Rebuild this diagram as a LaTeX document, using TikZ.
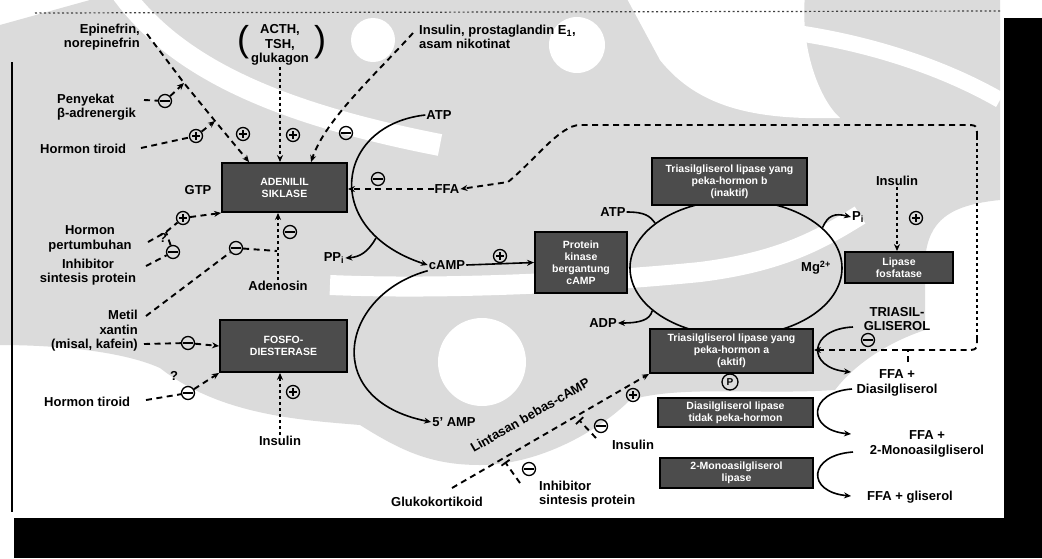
\documentclass[tikz,border=0pt]{standalone}
\usepackage{fontspec}
\setmainfont{Liberation Sans}
\usetikzlibrary{arrows.meta,shapes.geometric,calc}
\newcommand{\lblfont}{\bfseries\fontsize{13}{14.5}\selectfont}
\newcommand{\enzfont}{\bfseries\fontsize{10.5}{12}\selectfont}
\tikzset{
  lbl/.style={font=\lblfont, inner sep=1pt, align=center},
  enz/.style={draw=black, line width=1.9pt, fill=black!70, text=white, font=\enzfont, align=center, inner sep=1pt},
  dsh/.style={line width=1.9pt, dash pattern=on 6pt off 4.5pt},
  dotl/.style={line width=2.4pt, dash pattern=on 3pt off 3pt},
  sol/.style={line width=1.6pt},
  arr/.style={-{Stealth[length=7pt,width=6pt]}},
  tbar/.style={-{Bar[width=10pt,line width=1.8pt]}},
  sgn/.style={circle, draw, line width=1.3pt, minimum size=13pt, inner sep=0pt},
  sgnplus/.style={sgn, path picture={\draw[line width=1.3pt]
      ($(path picture bounding box.center)+(-4,0)$) -- ($(path picture bounding box.center)+(4,0)$)
      ($(path picture bounding box.center)+(0,-4)$) -- ($(path picture bounding box.center)+(0,4)$);}},
  sgnminus/.style={sgn, path picture={\draw[line width=1.3pt]
      ($(path picture bounding box.center)+(-5,0)$) -- ($(path picture bounding box.center)+(5,0)$);}},
  wm/.style={fill=black!14},
}
\begin{document}
\begin{tikzpicture}[x=1pt,y=-1pt]
\useasboundingbox (0,0) rectangle (1042,558);
\fill[white] (0,0) rectangle (1042,558);

% --- light grey watermark behind the scheme
\fill[wm] (0,25) -- (90,0) -- (1000,0) -- (1000,200)
  .. controls (950,205) and (928,220) .. (925,260) -- (925,330)
  .. controls (880,345) and (850,370) .. (835,390)
  .. controls (760,395) and (680,385) .. (630,400)
  .. controls (600,430) and (540,465) .. (480,465)
  .. controls (430,465) and (400,450) .. (360,425)
  .. controls (300,420) and (220,415) .. (160,368)
  .. controls (120,350) and (50,345) .. (0,345) -- cycle;
\fill[white] (373,40) circle[radius=22pt];
\fill[white] (577,45) circle[radius=28pt];
\fill[white] (482,362) circle[radius=44pt];
\draw[white, line width=20pt] (330,285) .. controls (450,290) and (600,282) .. (700,272)
  .. controls (780,262) and (820,240) .. (860,215);
\draw[white, line width=22pt] (120,-10) .. controls (170,60) and (260,110) .. (440,145);
\fill[white] (625,-5) -- (805,-5) .. controls (800,50) and (820,100) .. (840,118)
  .. controls (760,120) and (700,110) .. (660,60) -- cycle;
\draw[white, line width=16pt] (790,32) .. controls (850,40) and (930,60) .. (1000,100);

% --- page edges of the scan
\fill[black] (1004,18) rectangle (1042,558);
\fill[black] (14,518) rectangle (1042,558);
\draw[line width=2.5pt] (12,62) -- (12,512);
\draw[line width=1.2pt, dash pattern=on 2pt off 2.5pt, black!75] (35,13) -- (1000,11);

% --- labels
\node[lbl, anchor=east, align=right] (epi) at (141,37) {Epinefrin,\\norepinefrin};
\node[lbl] (acth) at (280,45) {ACTH,\\TSH,\\glukagon};
\node[font=\fontsize{36}{36}\selectfont, inner sep=0pt] (lpar) at (243,42) {(};
\node[font=\fontsize{36}{36}\selectfont, inner sep=0pt] (rpar) at (320,42) {)};
\node[lbl, anchor=west, align=left] (ins1) at (418,37) {Insulin, prostaglandin E\textsubscript{1},\\asam nikotinat};
\node[lbl, anchor=west, align=left] (peny) at (56,107) {Penyekat\\β-adrenergik};
\node[lbl, anchor=west] (tir1) at (39,149) {Hormon tiroid};
\node[lbl] (gtp) at (198,190) {GTP};
\node[lbl] (hp) at (90,239) {Hormon\\pertumbuhan};
\node[lbl] (isp1) at (88,272) {Inhibitor\\sintesis protein};
\node[lbl] (ppi) at (334,258) {PP\textsubscript{i}};
\node[lbl] (ade) at (278,286) {Adenosin};
\node[lbl, anchor=east, align=right] (mx) at (139,331) {Metil\\xantin\\(misal, kafein)};
\node[lbl, anchor=west] (tir2) at (43,402) {Hormon tiroid};
\node[lbl] (ins2) at (280,441) {Insulin};
\node[lbl] (atp1) at (439,115) {ATP};
\node[lbl] (ffa1) at (447,189) {FFA};
\node[lbl] (camp) at (447,265) {cAMP};
\node[lbl] (amp5) at (454,422) {5' AMP};
\node[lbl] (atp2) at (613,212) {ATP};
\node[lbl] (adp) at (603,323) {ADP};
\node[lbl] (pi) at (858,217) {P\textsubscript{i}};
\node[lbl] (mg) at (816,268) {Mg\textsuperscript{2+}};
\node[lbl] (ins3) at (897,181) {Insulin};
\node[lbl] (tag) at (897,319) {TRIASIL-\\GLISEROL};
\node[lbl] (ffa2) at (897,383) {FFA +\\Diasilgliserol};
\node[lbl] (ffa3) at (927,444) {FFA +\\2-Monoasilgliserol};
\node[lbl] (ffa4) at (910,497) {FFA + gliserol};
\node[lbl] (gk) at (437,502) {Glukokortikoid};
\node[lbl, anchor=west, align=left] (isp2) at (538,494) {Inhibitor\\sintesis protein};
\node[lbl] (ins4) at (633,445) {Insulin};
\node[lbl, rotate=30] (lint) at (530,415) {Lintasan bebas-cAMP};
\node[lbl] (q1) at (163,238) {?};
\node[lbl] (q2) at (174,376) {?};

% --- the phosphorylation cycle of the lipase
\node[ellipse, draw, line width=1.6pt, minimum width=212pt, minimum height=136pt] (cyc) at (736,268) {};

% --- enzymes
\node[enz, minimum width=125pt, minimum height=49pt] (ac) at (284.5,187.5) {ADENILIL\\SIKLASE};
\node[enz, minimum width=127pt, minimum height=52pt] (pde) at (283.5,346) {FOSFO-\\DIESTERASE};
\node[enz, minimum width=92pt, minimum height=61pt] (pk) at (581,262.5) {Protein\\kinase\\bergantung\\cAMP};
\node[enz, minimum width=155pt, minimum height=47pt] (hslb) at (729.5,181.5) {Triasilgliserol lipase yang\\peka-hormon b\\(inaktif)};
\node[enz, minimum width=108pt, minimum height=31pt] (lpf) at (899,267.5) {Lipase\\fosfatase};
\node[enz, minimum width=163pt, minimum height=44pt] (hsla) at (731.5,351) {Triasilgliserol lipase yang\\peka-hormon a\\(aktif)};
\node[enz, minimum width=155pt, minimum height=29pt] (dgl) at (735.5,412.5) {Diasilgliserol lipase\\tidak peka-hormon};
\node[enz, minimum width=153pt, minimum height=30pt] (mgl) at (736.5,473) {2-Monoasilgliserol\\lipase};
\node[sgn, font=\bfseries\fontsize{10}{10}\selectfont, minimum size=16pt] (pp) at (730,382) {P};

% --- effect signs
\node[sgnminus] (mA) at (165,101) {};
\node[sgnplus]  (pB) at (196,136) {};
\node[sgnplus]  (pE) at (243,134) {};
\node[sgnplus]  (pT) at (293,135) {};
\node[sgnminus] (mI) at (346,133) {};
\node[sgnminus] (mF1) at (378,179) {};
\node[sgnplus]  (pC) at (183,218) {};
\node[sgnminus] (mC) at (173,252) {};
\node[sgnminus] (mD) at (236,248) {};
\node[sgnminus] (mAd) at (290,232) {};
\node[sgnminus] (mE) at (188,343) {};
\node[sgnminus] (mF) at (188,393) {};
\node[sgnplus]  (pI) at (293,392) {};
\node[sgnplus]  (pK) at (500,256) {};
\node[sgnplus]  (pL) at (916,218) {};
\node[sgnminus] (mT) at (868,340) {};
\node[sgnplus]  (pG) at (633,395) {};
\node[sgnminus] (mG) at (601,426) {};
\node[sgnminus] (mH) at (529,469) {};

% --- junctions and free ends
\coordinate (epiS) at (147,34);
\coordinate (jA) at (184,83);
\coordinate (jB) at (215,121);
\coordinate (penyS) at (144,100);
\coordinate (tir1S) at (141,148);
\coordinate (ins1S) at (413,33);
\coordinate (hpS) at (148,242);
\coordinate (jC) at (166,232);
\coordinate (ispS) at (146,266);
\coordinate (mxS) at (146,316);
\coordinate (jD) at (277,251);
\coordinate (mxS2) at (144,344);
\coordinate (tir2S) at (146,400);
\coordinate (ppiS) at (376,238);
\coordinate (j4) at (908,350);
\coordinate (j4b) at (908,362);
\coordinate (kR1) at (977,338);
\coordinate (kR2) at (977,137);
\coordinate (c1s) at (853,327);
\coordinate (c1e) at (851,372);
\coordinate (c2s) at (852,389);
\coordinate (c2e) at (851,434);
\coordinate (c3s) at (853,452);
\coordinate (c3e) at (851,496);
\coordinate (gkS) at (452,488);
\coordinate (tb1) at (579,420);
\coordinate (ins4S) at (596,438);
\coordinate (tb2) at (505,462);
\coordinate (isp2S) at (520,483);

% --- hormonal control of adenylyl cyclase
\draw[dsh, arr] (epiS) -- (jA) -- (jB) -- ($(ac.north west)+(28,0)$);
\draw[dsh, arr] (penyS) -- (mA) -- (jA);
\draw[dsh, arr] (tir1S) -- (pB) -- (jB);
\draw[dotl, arr] (acth.south) -- (acth.south |- ac.north);
\draw[dsh, arr] (ins1S) .. controls (375,75) and (325,120) .. ($(ac.north west)+(90,0)$);
\draw[dsh, arr] (ffa1.west) -- (ac.east |- ffa1.west);
\draw[dsh, arr] (hpS) -- (jC) -- (pC) -- (ac.south west);
\draw[dsh] (ispS) -- (mC) -- (jC);
\draw[dotl, arr] (ade.north) -- (ade.north |- ac.south);
\draw[dsh] (mxS) -- (mD) -- (jD);

% --- control of phosphodiesterase
\draw[dsh, arr] (mxS2) -- (mE) -- (pde.west);
\draw[dsh, arr] (tir2S) -- (mF) -- (pde.south west);
\draw[dotl, arr] (ins2.north) -- (ins2.north |- pde.south);

% --- cAMP formation and breakdown
\draw[sol, arr] (atp1.west) .. controls (335,125) and (320,230) .. (camp.west);
\draw[sol, arr] (ppiS) .. controls (368,252) and (360,257) .. (ppi.east);
\draw[sol, arr] (camp.south west) .. controls (340,295) and (320,400) .. (amp5.west);
\draw[sol, arr] (camp.east) -- (pk.west);

% --- cycle side reactions
\draw[sol] (atp2.east) .. controls (645,212) and (650,216) .. (cyc.151);
\draw[sol, arr] (cyc.207) .. controls (650,320) and (640,323) .. (adp.east);
\draw[sol, arr] (cyc.25) .. controls (828,215) and (835,213) .. (pi.west);
\draw[dotl, arr] (ins3.south) -- (ins3.south |- lpf.north);

% --- hydrolysis steps
\draw[sol, arr] (c1s) .. controls (808,329) and (806,368) .. (c1e);
\draw[sol, arr] (c2s) .. controls (808,392) and (806,430) .. (c2e);
\draw[sol, arr] (c3s) .. controls (808,455) and (806,492) .. (c3e);

% --- FFA feedback
\draw[dsh] (j4b) -- (j4);
\draw[dsh, arr] (j4) -- (hsla.east |- j4);
\draw[dsh] (j4) -- (965,350) .. controls (977,350) .. (kR1);
\draw[dotl] (kR1) -- (kR2);
\draw[dsh, arr] (kR2) .. controls (977,125) .. (965,125) -- (580,125)
  .. controls (560,125) and (535,160) .. (508,182) -- (ffa1.east);

% --- cAMP-independent pathway
\draw[dsh, arr] (gkS) -- (hsla.south west);
\draw[dsh, tbar] (ins4S) -- (tb1);
\draw[dsh, tbar] (isp2S) -- (tb2);
\end{tikzpicture}
\end{document}
